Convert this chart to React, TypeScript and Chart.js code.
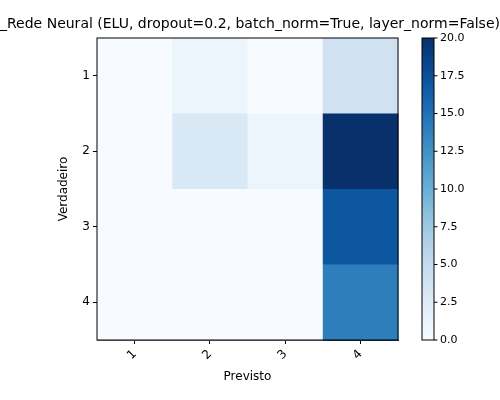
import React, { useEffect, useRef } from "react";
import { Chart, registerables } from "chart.js";
Chart.register(...registerables);

const labels = ["1", "2", "3", "4"];
const matrix = [
  [0, 1, 0, 4],
  [0, 3, 1, 20],
  [0, 0, 0, 17],
  [0, 0, 0, 14],
];
const vmax = 20;
const cbTicks = [0, 2.5, 5, 7.5, 10, 12.5, 15, 17.5, 20];
const titleText = "_Rede Neural (ELU, dropout=0.2, batch_norm=True, layer_norm=False)";
const xTitle = "Previsto";
const yTitle = "Verdadeiro";

const stops = ["#f7fbff", "#deebf7", "#c6dbef", "#9ecae1", "#6baed6", "#4292c6", "#2171b5", "#08519c", "#08306b"];
function hex(h: string) { return [1, 3, 5].map(i => parseInt(h.slice(i, i + 2), 16)); }
function blues(t: number) {
  t = Math.max(0, Math.min(1, t));
  const p = t * (stops.length - 1);
  const i = Math.min(Math.floor(p), stops.length - 2);
  const f = p - i;
  const a = hex(stops[i]), b = hex(stops[i + 1]);
  return `rgb(${a.map((v, k) => Math.round(v + (b[k] - v) * f)).join(",")})`;
}

const heat = {
  id: "heat",
  beforeDatasetsDraw(chart: any) {
    const { ctx, scales: { x, y }, chartArea: ca } = chart;
    ctx.save();
    matrix.forEach((row, r) => row.forEach((v, c) => {
      const x0 = x.getPixelForValue(c + 0.5), x1 = x.getPixelForValue(c + 1.5);
      const y0 = y.getPixelForValue(r + 0.5), y1 = y.getPixelForValue(r + 1.5);
      ctx.fillStyle = blues(v / vmax);
      ctx.fillRect(x0, y0, x1 - x0 + 0.5, y1 - y0 + 0.5);
    }));
    ctx.strokeStyle = "#000"; ctx.lineWidth = 1;
    ctx.strokeRect(ca.left, ca.top, ca.right - ca.left, ca.bottom - ca.top);
    const cx0 = 422, cx1 = 434;
    const g = ctx.createLinearGradient(0, ca.bottom, 0, ca.top);
    for (let i = 0; i <= 20; i++) g.addColorStop(i / 20, blues(i / 20));
    ctx.fillStyle = g;
    ctx.fillRect(cx0, ca.top, cx1 - cx0, ca.bottom - ca.top);
    ctx.strokeRect(cx0, ca.top, cx1 - cx0, ca.bottom - ca.top);
    ctx.fillStyle = "#000";
    ctx.font = "11px 'DejaVu Sans'";
    ctx.textAlign = "left"; ctx.textBaseline = "middle";
    cbTicks.forEach(t => {
      const py = ca.bottom - (t / vmax) * (ca.bottom - ca.top);
      ctx.beginPath(); ctx.moveTo(cx1, py); ctx.lineTo(cx1 + 3.5, py); ctx.stroke();
      ctx.fillText(t.toFixed(1), cx1 + 6, py);
    });
    ctx.font = "14px 'DejaVu Sans'";
    ctx.fillText(titleText, 0, 24);
    ctx.font = "12px 'DejaVu Sans'";
    ctx.textAlign = "center";
    ctx.fillText(xTitle, (ca.left + ca.right) / 2, 377);
    ctx.translate(64, (ca.top + ca.bottom) / 2);
    ctx.rotate(-Math.PI / 2);
    ctx.fillText(yTitle, 0, 0);
    ctx.restore();
  },
};

export default function App() {
  const ref = useRef<HTMLCanvasElement>(null);
  useEffect(() => {
    document.body.style.margin = "0";
    const tickFont = { family: "DejaVu Sans", size: 12 };
    const chart = new Chart(ref.current!, {
      type: "scatter",
      data: { datasets: [{ data: [] }] },
      options: {
        animation: false, responsive: false,
        layout: { padding: { top: 38, right: 102, left: 0, bottom: 0 } },
        plugins: { legend: { display: false }, tooltip: { enabled: false } },
        scales: {
          x: {
            type: "linear", min: 0.5, max: 4.5,
            afterBuildTicks: (s: any) => { s.ticks = labels.map((_, i) => ({ value: i + 1 })); },
            afterFit: (s: any) => { s.height = 60; },
            ticks: { color: "#000", font: tickFont, maxRotation: 45, minRotation: 45, callback: (v: any) => labels[v - 1] },
            grid: { drawOnChartArea: false, color: "#000", tickLength: 4 },
            border: { color: "#000" },
          },
          y: {
            type: "linear", min: 0.5, max: 4.5, reverse: true,
            afterBuildTicks: (s: any) => { s.ticks = labels.map((_, i) => ({ value: i + 1 })); },
            afterFit: (s: any) => { s.width = 97; },
            ticks: { color: "#000", font: tickFont, callback: (v: any) => labels[v - 1] },
            grid: { drawOnChartArea: false, color: "#000", tickLength: 4 },
            border: { color: "#000" },
          },
        },
      },
      plugins: [heat],
    } as any);
    return () => chart.destroy();
  }, []);
  return <canvas ref={ref} width={500} height={400} />;
}
